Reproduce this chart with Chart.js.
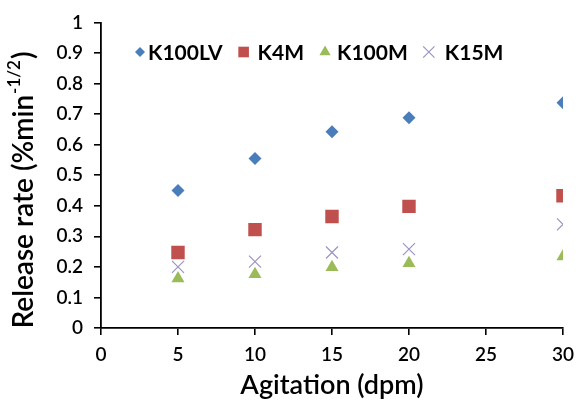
<!DOCTYPE html>
<html>
<head>
<meta charset="utf-8">
<script src="https://cdn.jsdelivr.net/npm/chart.js@4.4.1/dist/chart.umd.min.js"></script>
<style>
  html, body { margin: 0; padding: 0; background: #fff; }
  #wrap { width: 582px; height: 401px; position: relative; }
</style>
</head>
<body>
<div id="wrap"><canvas id="c" width="582" height="401"></canvas></div>
<script>
// Data
const agitation = [5, 10, 15, 20, 30];
const k100lv = [0.45, 0.555, 0.642, 0.688, 0.737];
const k4m    = [0.247, 0.322, 0.365, 0.398, 0.433];
const k100m  = [0.162, 0.176, 0.199, 0.212, 0.234];
const k15m   = [0.200, 0.217, 0.247, 0.258, 0.339];
const seriesNames = ['K100LV', 'K4M', 'K100M', 'K15M'];
const xTitle = 'Agitation (dpm)';
const yTitleMain = 'Release rate (%min';
const yTitleSup = '-1/2';
const yTitleEnd = ')';

const toPts = (vals) => agitation.map((x, i) => ({ x: x, y: vals[i] }));

const FONT = 'Lato, "Open Sans", sans-serif';
const legendRadius = [5, 7.5, 6.5, 8];
const legendTextOffset = [8, 14, 12, 16];

const yTitlePlugin = {
  id: 'yTitle',
  afterDraw(chart) {
    const ctx = chart.ctx;
    ctx.save();
    const mainFont = '600 28px ' + FONT;
    const supFont = '600 17px ' + FONT;
    ctx.font = mainFont;
    const w1 = ctx.measureText(yTitleMain).width;
    const w3 = ctx.measureText(yTitleEnd).width;
    ctx.font = supFont;
    const w2 = ctx.measureText(yTitleSup).width;
    const W = w1 + w2 + w3 + 2;
    const cx = 24, cy = 190;
    ctx.translate(cx, cy);
    ctx.rotate(-Math.PI / 2);
    ctx.fillStyle = '#000';
    ctx.textBaseline = 'middle';
    ctx.textAlign = 'left';
    let x = -W / 2;
    ctx.font = mainFont;
    ctx.fillText(yTitleMain, x, 0);
    x += w1 + 1;
    ctx.font = supFont;
    ctx.fillText(yTitleSup, x, -9);
    x += w2 + 1;
    ctx.font = mainFont;
    ctx.fillText(yTitleEnd, x, 0);
    ctx.restore();
  }
};

const legendPlugin = {
  id: 'inLegend',
  afterDraw(chart) {
    const ctx = chart.ctx;
    const y = 52;
    let x = 140;
    ctx.save();
    ctx.font = 'bold 21px ' + FONT;
    ctx.textBaseline = 'middle';
    ctx.textAlign = 'left';
    chart.data.datasets.forEach((ds, i) => {
      ctx.fillStyle = ds.backgroundColor;
      ctx.strokeStyle = ds.borderColor;
      ctx.lineWidth = ds.borderWidth || 0;
      Chart.helpers.drawPoint(ctx, {
        pointStyle: ds.pointStyle, radius: legendRadius[i], rotation: 0,
        borderWidth: ds.borderWidth || 0
      }, x, y);
      const tx = x + legendTextOffset[i];
      ctx.fillStyle = '#000';
      ctx.fillText(ds.label, tx, y + 1);
      x = tx + ctx.measureText(ds.label).width + 21;
    });
    ctx.restore();
  }
};

new Chart(document.getElementById('c'), {
  type: 'scatter',
  data: {
    datasets: [
      { label: seriesNames[0], data: toPts(k100lv), pointStyle: 'rectRot', radius: 6.5,
        backgroundColor: '#4a7ebb', borderColor: '#4a7ebb', borderWidth: 0 },
      { label: seriesNames[1], data: toPts(k4m), pointStyle: 'rect', radius: 9.5,
        backgroundColor: '#c0504d', borderColor: '#c0504d', borderWidth: 0 },
      { label: seriesNames[2], data: toPts(k100m), pointStyle: 'triangle', radius: 7.5,
        backgroundColor: '#9bbb59', borderColor: '#9bbb59', borderWidth: 0 },
      { label: seriesNames[3], data: toPts(k15m), pointStyle: 'crossRot', radius: 8.5,
        backgroundColor: '#9d93c4', borderColor: '#9d93c4', borderWidth: 1.2 }
    ]
  },
  options: {
    responsive: false,
    animation: false,
    devicePixelRatio: 1,
    layout: { padding: { top: 20, right: 12, left: 0, bottom: 0 } },
    plugins: {
      tooltip: { enabled: false },
      legend: { display: false }
    },
    scales: {
      x: {
        type: 'linear',
        min: 0, max: 30,
        afterFit(scale) { scale.height = 73; },
        ticks: { stepSize: 5, color: '#000', padding: 8,
          font: { family: FONT, size: 19, weight: '600' } },
        grid: { drawOnChartArea: false, drawTicks: true, tickLength: 7, color: '#000', lineWidth: 1.6 },
        border: { color: '#000', width: 1.8 },
        title: { display: true, text: xTitle, color: '#000', padding: { top: 2, bottom: 0 },
          font: { family: FONT, size: 27, weight: '600' } }
      },
      y: {
        type: 'linear',
        min: 0, max: 1,
        afterFit(scale) { scale.width = 101; },
        ticks: { stepSize: 0.1, color: '#000', padding: 11,
          font: { family: FONT, size: 19, weight: '600' },
          callback: (v) => String(+v.toFixed(1)) },
        grid: { drawOnChartArea: false, drawTicks: true, tickLength: 7, color: '#000', lineWidth: 1.6 },
        border: { color: '#000', width: 1.8 }
      }
    }
  },
  plugins: [yTitlePlugin, legendPlugin]
});
</script>
</body>
</html>
